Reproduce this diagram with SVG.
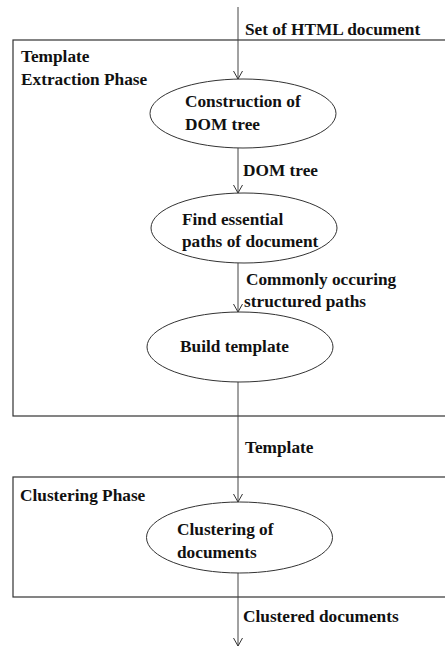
<svg xmlns="http://www.w3.org/2000/svg" width="445" height="647" viewBox="0 0 445 647">
<defs>
<marker id="arr" markerWidth="10" markerHeight="10" refX="8" refY="4.5" orient="auto" markerUnits="userSpaceOnUse">
<path d="M0,0 L8,4.5 L0,9" fill="none" stroke="#333" stroke-width="1"/>
</marker>
</defs>
<style>
text{font-family:"Liberation Serif","Times New Roman",serif;font-weight:bold;font-size:17.3px;fill:#111}
.box{fill:none;stroke:#333;stroke-width:1.2}
.node{fill:#fff;stroke:#333;stroke-width:1}
.conn{stroke:#444;stroke-width:1;fill:none}
</style>
<rect width="445" height="647" fill="#fff"/>
<g id="phase1">
<rect class="box" x="13" y="40" width="440" height="376"/>
<text x="21" y="62">Template</text>
<text x="21" y="85">Extraction Phase</text>
</g>
<g id="phase2">
<rect class="box" x="13" y="477" width="440" height="120"/>
<text x="20" y="501">Clustering Phase</text>
</g>
<g id="connectors">
<line class="conn" x1="238" y1="7" x2="238" y2="79" marker-end="url(#arr)"/>
<line class="conn" x1="238" y1="148" x2="238" y2="193" marker-end="url(#arr)"/>
<line class="conn" x1="238" y1="263" x2="238" y2="312" marker-end="url(#arr)"/>
<line class="conn" x1="238" y1="382" x2="238" y2="502" marker-end="url(#arr)"/>
<line class="conn" x1="238" y1="573" x2="238" y2="646" marker-end="url(#arr)"/>
<text x="245" y="35">Set of HTML document</text>
<text x="243" y="176">DOM tree</text>
<text x="246" y="285">Commonly occuring</text>
<text x="244" y="307">structured paths</text>
<text x="245" y="453">Template</text>
<text x="243" y="622">Clustered documents</text>
</g>
<g id="n1">
<ellipse class="node" cx="243" cy="113.5" rx="93" ry="34.5"/>
<text x="185" y="107">Construction of</text>
<text x="185" y="130">DOM tree</text>
</g>
<g id="n2">
<ellipse class="node" cx="244" cy="228" rx="93" ry="35"/>
<text x="182" y="225">Find essential</text>
<text x="182" y="247">paths of document</text>
</g>
<g id="n3">
<ellipse class="node" cx="240" cy="347" rx="93" ry="35"/>
<text x="180" y="352">Build template</text>
</g>
<g id="n4">
<ellipse class="node" cx="239.5" cy="537.5" rx="93" ry="35.5"/>
<text x="177" y="535">Clustering of</text>
<text x="177" y="558">documents</text>
</g>
</svg>
